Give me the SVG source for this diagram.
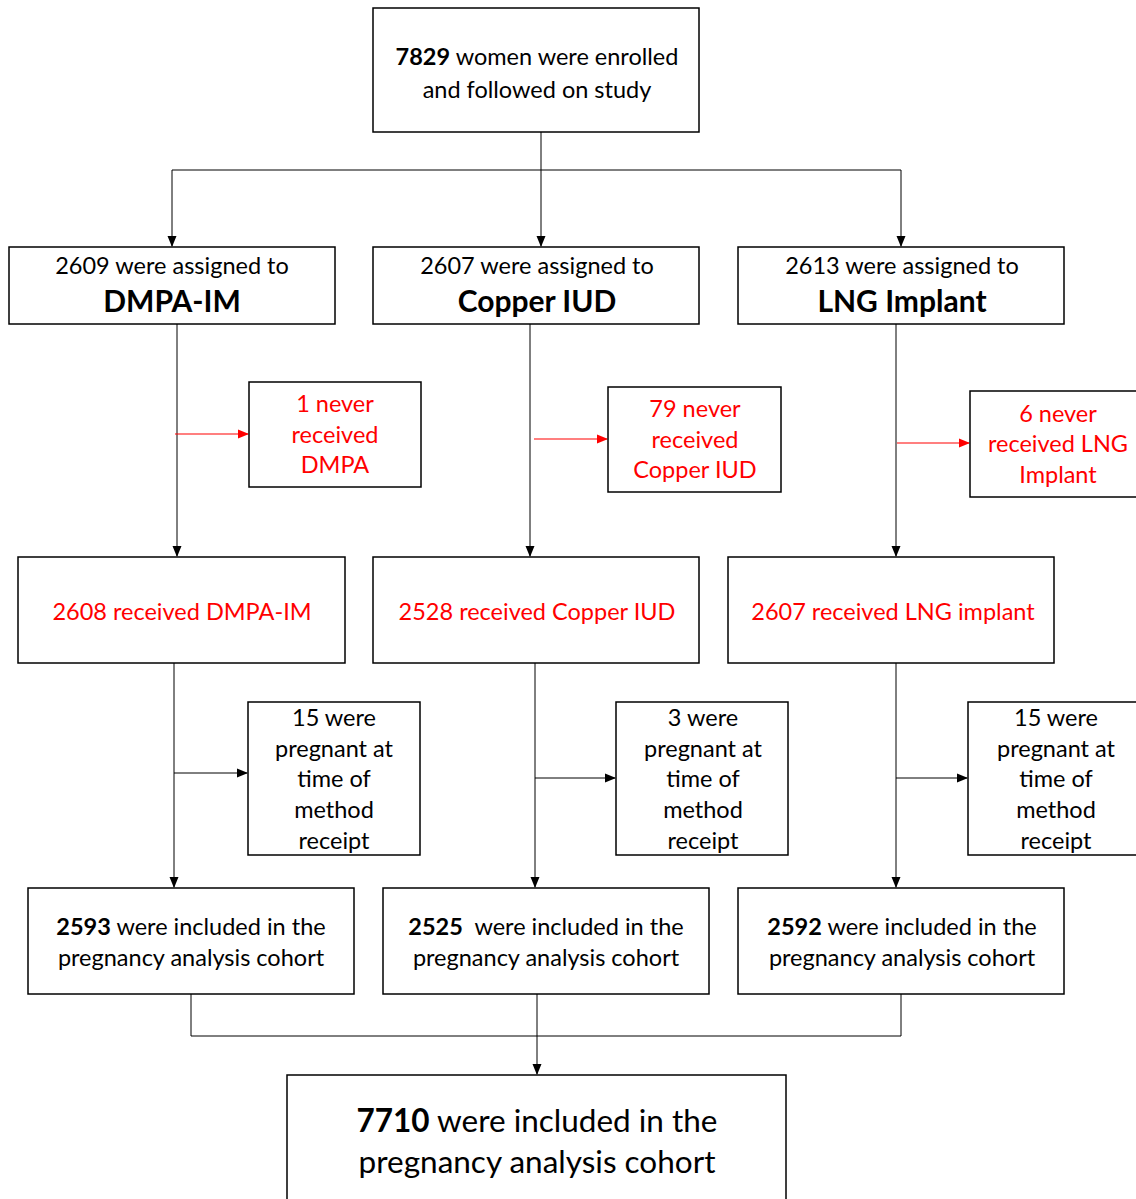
<svg xmlns="http://www.w3.org/2000/svg" width="1136" height="1199" viewBox="0 0 1136 1199">
<defs>
<marker id="ah" markerWidth="11" markerHeight="11" refX="10" refY="5.5" orient="auto" markerUnits="userSpaceOnUse"><path d="M0,1 L11,5.5 L0,10 Z" fill="#000"/></marker>
<marker id="ahr" markerWidth="11" markerHeight="11" refX="10" refY="5.5" orient="auto" markerUnits="userSpaceOnUse"><path d="M0,1 L11,5.5 L0,10 Z" fill="#ff0000"/></marker>
<style>
.box{fill:#fff;stroke:#000;stroke-width:1.5}
.t{font-family:Lato,"Liberation Sans",sans-serif;font-size:23.5px;fill:#000;text-anchor:middle}
.r{fill:#ff0000}
.big{font-size:30px;font-weight:bold}
.fin{font-size:31.5px}
.b{font-weight:bold}
.c{fill:none;stroke:#000;stroke-width:1}
.cr{fill:none;stroke:#ff0000;stroke-width:1.2}
</style>
</defs>
<rect width="1136" height="1199" fill="#fff"/>
<g id="connectors">
<path class="c" d="M541,132 V170"/>
<path class="c" d="M172,170 H901"/>
<path class="c" d="M172,170 V246" marker-end="url(#ah)"/>
<path class="c" d="M541,170 V246" marker-end="url(#ah)"/>
<path class="c" d="M901,170 V246" marker-end="url(#ah)"/>
<path class="c" d="M177,324 V556" marker-end="url(#ah)"/>
<path class="c" d="M530,324 V556" marker-end="url(#ah)"/>
<path class="c" d="M896,324 V556" marker-end="url(#ah)"/>
<path class="cr" d="M175,434 H248" marker-end="url(#ahr)"/>
<path class="cr" d="M534,439 H607" marker-end="url(#ahr)"/>
<path class="cr" d="M897,443 H969" marker-end="url(#ahr)"/>
<path class="c" d="M174,663 V887" marker-end="url(#ah)"/>
<path class="c" d="M535,663 V887" marker-end="url(#ah)"/>
<path class="c" d="M896,663 V887" marker-end="url(#ah)"/>
<path class="c" d="M174,773 H247" marker-end="url(#ah)"/>
<path class="c" d="M535,778 H615" marker-end="url(#ah)"/>
<path class="c" d="M896,778 H967" marker-end="url(#ah)"/>
<path class="c" d="M191,994 V1036 H901 V994"/>
<path class="c" d="M537,994 V1074" marker-end="url(#ah)"/>
</g>
<g id="enrolled">
<rect class="box" x="373" y="8" width="326" height="124"/>
<text class="t" x="537" y="65"><tspan class="b">7829</tspan> women were enrolled</text>
<text class="t" x="537" y="98">and followed on study</text>
</g>
<g id="assigned-dmpa">
<rect class="box" x="9" y="247" width="326" height="77"/>
<text class="t" x="172" y="274">2609 were assigned to</text>
<text class="t big" x="172" y="312">DMPA-IM</text>
</g>
<g id="assigned-copper">
<rect class="box" x="373" y="247" width="326" height="77"/>
<text class="t" x="537" y="274">2607 were assigned to</text>
<text class="t big" x="537" y="312">Copper IUD</text>
</g>
<g id="assigned-lng">
<rect class="box" x="738" y="247" width="326" height="77"/>
<text class="t" x="902" y="274">2613 were assigned to</text>
<text class="t big" x="902" y="312">LNG Implant</text>
</g>
<g id="never-dmpa">
<rect class="box" x="249" y="382" width="172" height="105"/>
<text class="t r" x="335" y="412">1 never</text>
<text class="t r" x="335" y="443">received</text>
<text class="t r" x="335" y="473">DMPA</text>
</g>
<g id="never-copper">
<rect class="box" x="608" y="387" width="173" height="105"/>
<text class="t r" x="695" y="417">79 never</text>
<text class="t r" x="695" y="448">received</text>
<text class="t r" x="695" y="478">Copper IUD</text>
</g>
<g id="never-lng">
<rect class="box" x="970" y="391" width="172" height="106"/>
<text class="t r" x="1058" y="422">6 never</text>
<text class="t r" x="1058" y="452">received LNG</text>
<text class="t r" x="1058" y="483">Implant</text>
</g>
<g id="received-dmpa">
<rect class="box" x="18" y="557" width="327" height="106"/>
<text class="t r" x="182" y="620">2608 received DMPA-IM</text>
</g>
<g id="received-copper">
<rect class="box" x="373" y="557" width="326" height="106"/>
<text class="t r" x="537" y="620">2528 received Copper IUD</text>
</g>
<g id="received-lng">
<rect class="box" x="728" y="557" width="326" height="106"/>
<text class="t r" x="893" y="620">2607 received LNG implant</text>
</g>
<g id="pregnant-dmpa">
<rect class="box" x="248" y="702" width="172" height="153"/>
<text class="t" x="334" y="726">15 were</text>
<text class="t" x="334" y="757">pregnant at</text>
<text class="t" x="334" y="787">time of</text>
<text class="t" x="334" y="818">method</text>
<text class="t" x="334" y="849">receipt</text>
</g>
<g id="pregnant-copper">
<rect class="box" x="616" y="702" width="172" height="153"/>
<text class="t" x="703" y="726">3 were</text>
<text class="t" x="703" y="757">pregnant at</text>
<text class="t" x="703" y="787">time of</text>
<text class="t" x="703" y="818">method</text>
<text class="t" x="703" y="849">receipt</text>
</g>
<g id="pregnant-lng">
<rect class="box" x="968" y="702" width="172" height="153"/>
<text class="t" x="1056" y="726">15 were</text>
<text class="t" x="1056" y="757">pregnant at</text>
<text class="t" x="1056" y="787">time of</text>
<text class="t" x="1056" y="818">method</text>
<text class="t" x="1056" y="849">receipt</text>
</g>
<g id="included-dmpa">
<rect class="box" x="28" y="888" width="326" height="106"/>
<text class="t" x="191" y="935"><tspan class="b">2593</tspan> were included in the</text>
<text class="t" x="191" y="966">pregnancy analysis cohort</text>
</g>
<g id="included-copper">
<rect class="box" x="383" y="888" width="326" height="106"/>
<text class="t" x="546" y="935" xml:space="preserve"><tspan class="b">2525</tspan>  were included in the</text>
<text class="t" x="546" y="966">pregnancy analysis cohort</text>
</g>
<g id="included-lng">
<rect class="box" x="738" y="888" width="326" height="106"/>
<text class="t" x="902" y="935"><tspan class="b">2592</tspan> were included in the</text>
<text class="t" x="902" y="966">pregnancy analysis cohort</text>
</g>
<g id="total">
<rect class="box" x="287" y="1075" width="499" height="140"/>
<text class="t fin" x="537" y="1132"><tspan class="b">7710</tspan> were included in the</text>
<text class="t fin" x="537" y="1173">pregnancy analysis cohort</text>
</g>
</svg>
